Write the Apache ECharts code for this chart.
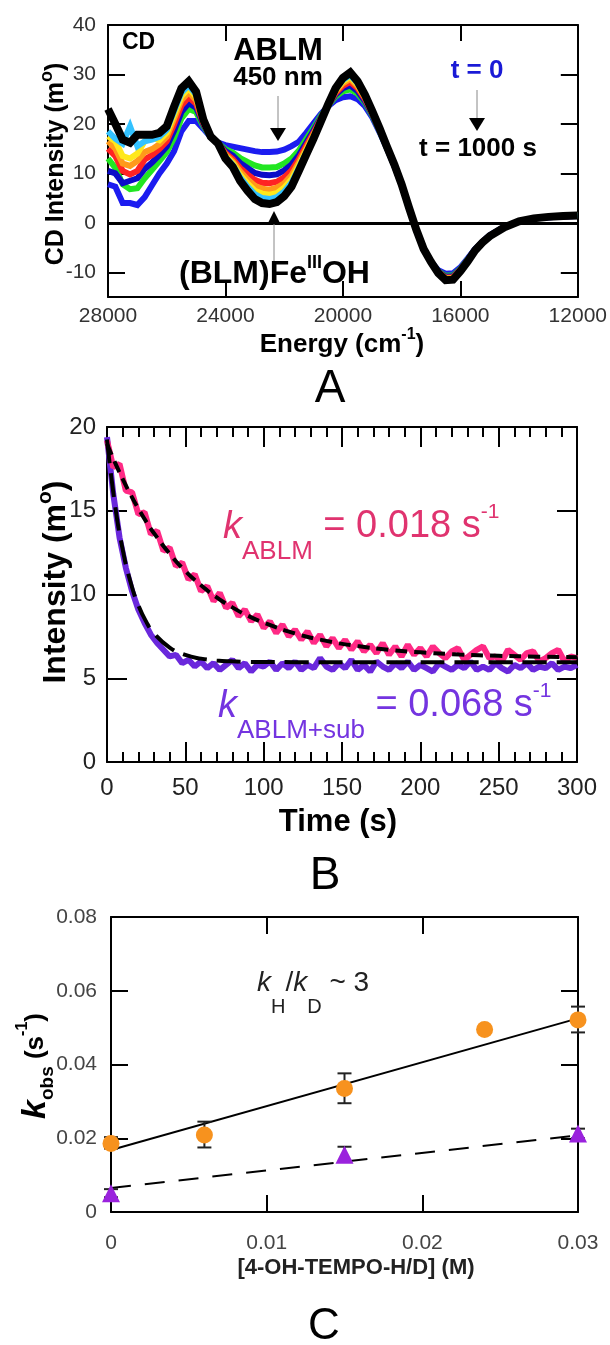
<!DOCTYPE html>
<html><head><meta charset="utf-8">
<script src="https://cdn.jsdelivr.net/npm/echarts@6/dist/echarts.min.js"></script>
<style>html,body{margin:0;padding:0;background:#fff}#c{width:610px;height:1345px}</style>
</head><body><div id="c"></div>
<script>
// ---------- Panel A: CD spectra ----------
const energy = [28000,27750,27500,27250,27000,26750,26500,26250,26000,25750,25500,25250,25000,24750,24500,24250,24000,23750,23500,23250,23000,22750,22500,22250,22000,21750,21500,21250,21000,20750,20500,20250,20000,19750,19500,19250,19000,18750,18500,18250,18000,17750,17500,17250,17000,16750,16500,16250,16000,15750,15500,15250,15000,14500,14000,13500,13000,12500,12000];
const cdBlue0 = [7.8,7.3,4.0,4.0,3.6,5.2,7.6,10.0,12.0,14.5,18.5,20.6,20.6,19.0,17.3,16.2,15.7,15.4,15.1,14.8,14.5,14.3,14.3,14.4,14.8,15.5,16.4,18.2,20.1,22.0,23.6,24.8,25.4,25.6,25.0,23.6,21.3,18.3,15.0,11.5,7.6,3.0,-1.5,-5.3,-7.9,-9.6,-10.3,-10.2,-9.0,-7.2,-5.3,-3.8,-2.5,-0.8,0.3,0.9,1.1,1.3,1.4];
const cdGreen = [13.0,11.1,7.8,6.8,7.0,9.0,10.7,12.5,14.3,17.2,21.1,23.0,22.4,19.5,17.3,16.1,14.9,14.2,13.1,12.3,11.6,11.2,11.2,11.3,12.0,13.0,14.6,16.9,19.2,21.6,23.7,25.5,26.6,27.0,26.1,24.3,21.7,18.5,15.1,11.6,7.7,3.0,-1.5,-5.3,-7.9,-9.8,-10.7,-10.6,-9.3,-7.4,-5.4,-3.9,-2.6,-0.8,0.3,0.9,1.2,1.4,1.6];
const cdBlue2 = [10.5,10.0,8.0,8.5,9.0,10.9,12.2,13.7,15.4,18.6,22.4,24.2,23.3,19.8,17.3,16.1,14.5,13.6,12.1,11.1,10.1,9.7,9.6,9.8,10.6,11.8,13.7,16.2,18.7,21.3,23.8,25.9,27.2,27.8,26.6,24.6,21.9,18.6,15.2,11.6,7.7,3.0,-1.5,-5.3,-7.9,-9.9,-10.9,-10.8,-9.4,-7.5,-5.4,-3.9,-2.6,-0.8,0.3,0.9,1.1,1.3,1.5];
const cdRed = [15.0,13.5,10.5,9.8,10.5,12.8,13.7,14.9,16.5,19.9,23.7,25.4,24.1,20.1,17.4,16.1,14.1,12.9,11.1,9.8,8.7,8.1,8.0,8.3,9.2,10.6,12.9,15.6,18.2,21.1,23.8,26.2,27.7,28.5,27.2,25.0,22.1,18.8,15.3,11.7,7.7,3.1,-1.4,-5.3,-7.9,-10.0,-11.1,-11.0,-9.5,-7.6,-5.5,-3.9,-2.6,-0.9,0.3,0.9,1.2,1.3,1.5];
const cdOrange = [16.5,15.0,12.0,11.5,12.5,14.3,14.9,15.9,17.4,21.0,24.8,26.4,24.8,20.3,17.4,16.1,13.8,12.4,10.4,8.8,7.5,6.9,6.7,7.1,8.0,9.6,12.2,15.0,17.9,20.9,23.9,26.5,28.2,29.1,27.6,25.3,22.2,18.9,15.3,11.7,7.7,3.1,-1.4,-5.3,-7.9,-10.0,-11.2,-11.1,-9.6,-7.7,-5.5,-4.0,-2.7,-0.9,0.3,0.9,1.2,1.4,1.5];
const cdYellow = [17.5,16.5,13.5,13.0,14.0,16.5,17.2,16.7,18.2,21.9,25.6,27.2,25.4,20.5,17.4,16.0,13.5,12.0,9.7,8.0,6.5,5.9,5.7,6.0,7.1,8.8,11.6,14.6,17.6,20.8,23.9,26.8,28.6,29.5,28.0,25.5,22.4,19.0,15.3,11.8,7.8,3.1,-1.4,-5.3,-7.9,-10.1,-11.4,-11.3,-9.7,-7.7,-5.6,-4.0,-2.7,-0.9,0.3,0.9,1.2,1.4,1.5];
const cdCyan = [18.5,17.0,16.0,19.5,15.5,16.5,16.8,17.4,18.8,22.6,26.3,27.8,25.9,20.6,17.4,16.0,13.3,11.7,9.2,7.3,5.8,5.0,4.8,5.2,6.3,8.1,11.1,14.2,17.3,20.6,24.0,27.0,28.9,29.9,28.2,25.7,22.5,19.0,15.4,11.8,7.8,3.1,-1.4,-5.3,-7.9,-10.1,-11.5,-11.4,-9.7,-7.8,-5.6,-4.0,-2.7,-0.9,0.3,0.9,1.2,1.4,1.5];
const cdBlack = [23.0,20.0,16.8,16.2,17.8,17.8,17.8,18.2,19.5,23.5,27.2,28.6,26.5,20.8,17.4,16.0,13.0,11.3,8.5,6.5,4.8,4.0,3.8,4.2,5.4,7.3,10.5,13.8,17.0,20.5,24.0,27.2,29.3,30.4,28.6,25.9,22.6,19.1,15.4,11.8,7.8,3.1,-1.4,-5.3,-7.9,-10.2,-11.6,-11.5,-9.8,-7.8,-5.6,-4.0,-2.7,-0.9,0.3,0.9,1.2,1.4,1.5];
const aYLabels = [-10,0,10,20,30,40];
const aYTicks = [-10,10,20,30];

// ---------- Panel B: kinetics ----------
const bTime = [0,4,8,12,16,20,24,28,32,36,40,44,48,52,56,60,64,68,72,76,80,84,88,92,96,100,104,108,112,116,120,124,128,132,136,140,144,148,152,156,160,164,168,172,176,180,184,188,192,196,200,204,208,212,216,220,224,228,232,236,240,244,248,252,256,260,264,268,272,276,280,284,288,292,296,300];
const bPink = [19.2,17.6,17.8,16.2,16.1,14.8,14.9,13.6,13.8,12.6,12.8,11.7,11.9,10.9,11.2,10.2,10.5,9.6,10.1,9.2,9.5,8.7,9.1,8.4,8.8,8.0,8.4,7.7,8.2,7.5,7.9,7.3,7.8,7.1,7.6,6.9,7.4,6.8,7.3,6.7,7.2,6.6,7.0,6.5,7.1,6.4,6.9,6.3,7.0,6.4,6.8,6.3,6.9,6.5,6.2,6.6,6.8,6.1,6.4,6.7,6.9,6.2,6.3,6.0,6.7,6.4,6.1,6.5,6.6,6.0,6.2,6.5,6.7,6.0,6.3,6.2];
const bPurple = [19.4,16.0,13.4,11.6,10.2,9.1,8.3,7.6,7.1,6.7,6.3,6.4,5.9,6.1,5.7,6.0,5.6,5.9,5.5,5.8,6.1,5.6,5.9,5.4,5.8,5.7,6.0,5.5,5.9,5.6,6.0,5.5,5.8,5.6,6.2,5.7,5.5,5.9,5.6,6.1,5.5,5.8,5.4,6.0,5.7,5.5,5.9,5.6,6.0,5.5,5.8,5.6,5.4,5.9,5.7,5.5,5.8,5.6,6.0,5.5,5.7,5.5,5.9,5.6,5.4,5.8,5.6,5.9,5.5,5.7,5.6,5.9,5.5,5.7,5.6,5.8];
const bFitTime = [0,5,10,15,20,25,30,40,50,60,70,80,90,100,120,140,160,180,200,225,250,275,300];
const bPinkFit = [19.0,17.9,16.9,15.97,15.13,14.35,13.66,12.43,11.40,10.55,9.83,9.23,8.73,8.32,7.68,7.23,6.92,6.70,6.55,6.42,6.34,6.29,6.26];
const bPurpleFit = [19.25,15.42,12.69,10.75,9.36,8.38,7.68,6.83,6.39,6.17,6.06,6.01,5.98,5.97,5.96,5.95,5.95,5.95,5.95,5.95,5.95,5.95,5.95];

// ---------- Panel C: kobs vs [4-OH-TEMPO] ----------
const cHx = [0,0.006,0.015,0.024,0.03];
const cHy = [0.0186,0.0209,0.0335,0.0495,0.0521];
const cHerrX = [0,0.006,0.015,0.03];
const cHerrLo = [0.0172,0.0175,0.0295,0.0487];
const cHerrHi = [0.0203,0.0245,0.0376,0.0557];
const cDx = [0,0.015,0.03];
const cDy = [0.0051,0.0155,0.0213];
const cDerrLo = [0.0040,0.0136,0.0200];
const cDerrHi = [0.0062,0.0177,0.0226];
const cFitX = [0,0.03];
const cHfit = [0.0168,0.0525];
const cDfit = [0.0065,0.0208];

const FF = '"Liberation Sans", Arial, Helvetica, sans-serif';
const pairs = (xs, ys) => xs.map((x, i) => [x, ys[i]]);

function frameAxis(o) {
  return Object.assign({
    type: 'value', splitLine: {show: false},
    axisLine: {show: true, onZero: false, lineStyle: {color: '#000', width: 2}},
    axisTick: {show: true, inside: true, length: 16, lineStyle: {color: '#000', width: 2}},
    axisLabel: {show: false}
  }, o);
}
const lab = (size, color, margin, extra) => Object.assign({show: true, fontSize: size, color: color, fontFamily: FF, margin: margin}, extra || {});

const chart = echarts.init(document.getElementById('c'), null, {renderer: 'canvas'});

const cdSeries = [
  ['#1c1cf0', cdBlue0, 6], ['#22e622', cdGreen, 6], ['#0b0bc8', cdBlue2, 6], ['#ff2323', cdRed, 6],
  ['#ff9a1a', cdOrange, 6], ['#ffe81a', cdYellow, 6], ['#33c2ff', cdCyan, 6], ['#000000', cdBlack, 8]
].map(([col, arr, w], i) => ({
  type: 'line', xAxisIndex: 0, yAxisIndex: 0, data: pairs(energy, arr), showSymbol: false, clip: true,
  lineStyle: {color: col, width: w, join: 'miter'}, itemStyle: {color: col}, z: 2 + i,
  markLine: i === 7 ? {silent: true, symbol: 'none', label: {show: false}, lineStyle: {color: '#000', width: 3, type: 'solid'}, data: [{yAxis: 0}]} : undefined
}));

function errRender(params, api) {
  const x = api.value(0), lo = api.value(1), hi = api.value(2);
  const p1 = api.coord([x, lo]), p2 = api.coord([x, hi]);
  const st = {stroke: '#222', lineWidth: 2};
  const w = 7;
  return {type: 'group', children: [
    {type: 'line', shape: {x1: p1[0], y1: p1[1], x2: p2[0], y2: p2[1]}, style: st},
    {type: 'line', shape: {x1: p1[0] - w, y1: p1[1], x2: p1[0] + w, y2: p1[1]}, style: st},
    {type: 'line', shape: {x1: p2[0] - w, y1: p2[1], x2: p2[0] + w, y2: p2[1]}, style: st}
  ]};
}

const T = (text, x, y, o) => ({type: 'text', x: x, y: y, rotation: (o && o.rot) || 0, z: 100,
  style: Object.assign({text: text, x: 0, y: 0, fill: '#000', fontFamily: FF, fontSize: 20,
    align: 'left', verticalAlign: 'middle', textAlign: 'left', textVerticalAlign: 'middle'}, o && o.style)});
const rt = (o) => Object.assign({fontFamily: FF, fill: '#000', color: '#000'}, o);
const kRich = (col) => ({
  k: rt({fontSize: 38, fontStyle: 'italic', lineHeight: 76, verticalAlign: 'middle', fill: col, color: col}),
  s: rt({fontSize: 26, lineHeight: 26, verticalAlign: 'bottom', fill: col, color: col}),
  m: rt({fontSize: 38, lineHeight: 76, verticalAlign: 'middle', fill: col, color: col}),
  p: rt({fontSize: 21, lineHeight: 21, verticalAlign: 'top', padding: [13, 0, 0, 0], fill: col, color: col})
});

const option = {
  animation: false,
  textStyle: {fontFamily: FF},
  grid: [
    {left: 108, top: 25, width: 470, height: 272},
    {left: 107, top: 427, width: 470, height: 335},
    {left: 111, top: 917, width: 467, height: 295}
  ],
  xAxis: [
    frameAxis({gridIndex: 0, position: 'bottom', min: 12000, max: 28000, interval: 4000, inverse: true,
      axisLabel: lab(21, '#333', 9, {formatter: v => String(v)})}),
    frameAxis({gridIndex: 0, position: 'top', min: 12000, max: 28000, interval: 4000, inverse: true}),
    frameAxis({gridIndex: 1, position: 'bottom', min: 0, max: 300, interval: 50,
      axisTick: {show: true, inside: true, length: 20, lineStyle: {color: '#000', width: 2}},
      minorTick: {show: true, splitNumber: 5, length: 10, lineStyle: {color: '#000', width: 2}},
      axisLabel: lab(24, '#222', 14)}),
    frameAxis({gridIndex: 1, position: 'top', min: 0, max: 300, interval: 50,
      axisTick: {show: true, inside: true, length: 20, lineStyle: {color: '#000', width: 2}},
      minorTick: {show: true, splitNumber: 5, length: 10, lineStyle: {color: '#000', width: 2}}}),
    frameAxis({gridIndex: 2, position: 'bottom', min: 0, max: 0.03, interval: 0.01,
      axisTick: {show: true, inside: true, length: 17, lineStyle: {color: '#000', width: 2}},
      axisLabel: lab(21, '#444', 21)}),
    frameAxis({gridIndex: 2, position: 'top', min: 0, max: 0.03, interval: 0.01,
      axisTick: {show: true, inside: true, length: 17, lineStyle: {color: '#000', width: 2}}})
  ],
  yAxis: [
    frameAxis({gridIndex: 0, position: 'left', min: -15, max: 40,
      axisTick: {show: true, inside: true, length: 17, customValues: aYTicks, lineStyle: {color: '#000', width: 2}},
      axisLabel: lab(21, '#333', 12, {customValues: aYLabels})}),
    frameAxis({gridIndex: 0, position: 'right', min: -15, max: 40,
      axisTick: {show: true, inside: true, length: 17, customValues: aYTicks, lineStyle: {color: '#000', width: 2}}}),
    frameAxis({gridIndex: 1, position: 'left', min: 0, max: 20, interval: 5,
      axisTick: {show: true, inside: true, length: 20, lineStyle: {color: '#000', width: 2}},
      axisLabel: lab(24, '#222', 11)}),
    frameAxis({gridIndex: 1, position: 'right', min: 0, max: 20, interval: 5,
      axisTick: {show: true, inside: true, length: 20, lineStyle: {color: '#000', width: 2}}}),
    frameAxis({gridIndex: 2, position: 'left', min: 0, max: 0.08, interval: 0.02,
      axisTick: {show: true, inside: true, length: 17, lineStyle: {color: '#000', width: 2}},
      axisLabel: lab(21, '#444', 14)}),
    frameAxis({gridIndex: 2, position: 'right', min: 0, max: 0.08, interval: 0.02,
      axisTick: {show: true, inside: true, length: 17, lineStyle: {color: '#000', width: 2}}})
  ],
  series: cdSeries.concat([
    {type: 'line', xAxisIndex: 2, yAxisIndex: 2, data: pairs(bTime, bPurple), showSymbol: false,
      lineStyle: {color: '#6a28dc', width: 6}, z: 2},
    {type: 'line', xAxisIndex: 2, yAxisIndex: 2, data: pairs(bTime, bPink), showSymbol: false,
      lineStyle: {color: '#ff2a85', width: 6}, z: 3},
    {type: 'line', xAxisIndex: 2, yAxisIndex: 2, data: pairs(bFitTime, bPurpleFit), showSymbol: false, smooth: true,
      lineStyle: {color: '#000', width: 4, type: [24, 10]}, z: 4},
    {type: 'line', xAxisIndex: 2, yAxisIndex: 2, data: pairs(bFitTime, bPinkFit), showSymbol: false, smooth: true,
      lineStyle: {color: '#000', width: 4, type: [12, 7]}, z: 5},
    {type: 'line', xAxisIndex: 4, yAxisIndex: 4, data: pairs(cFitX, cHfit), showSymbol: false,
      lineStyle: {color: '#000', width: 2}, z: 2},
    {type: 'line', xAxisIndex: 4, yAxisIndex: 4, data: pairs(cFitX, cDfit), showSymbol: false,
      lineStyle: {color: '#000', width: 2, type: [20, 14]}, z: 2},
    {type: 'custom', xAxisIndex: 4, yAxisIndex: 4, clip: false, renderItem: errRender, encode: {x: 0, y: [1, 2]},
      data: cHerrX.map((x, i) => [x, cHerrLo[i], cHerrHi[i]]), z: 3},
    {type: 'custom', xAxisIndex: 4, yAxisIndex: 4, clip: false, renderItem: errRender, encode: {x: 0, y: [1, 2]},
      data: cDx.map((x, i) => [x, cDerrLo[i], cDerrHi[i]]), z: 3},
    {type: 'scatter', xAxisIndex: 4, yAxisIndex: 4, clip: false, data: pairs(cHx, cHy), symbol: 'circle', symbolSize: 17,
      itemStyle: {color: '#f7921e', opacity: 1}, z: 4},
    {type: 'scatter', xAxisIndex: 4, yAxisIndex: 4, clip: false, data: pairs(cDx, cDy), symbol: 'triangle', symbolSize: 18,
      itemStyle: {color: '#9a22dd', opacity: 1}, z: 4}
  ]),
  graphic: [
    // Panel A annotations
    T('CD', 122, 43, {style: {fontSize: 23, fontWeight: 'bold'}}),
    T('ABLM', 278, 51, {style: {fontSize: 31, fontWeight: 'bold', align: 'center', textAlign: 'center'}}),
    T('450 nm', 278, 78, {style: {fontSize: 26, fontWeight: 'bold', align: 'center', textAlign: 'center'}}),
    {type: 'line', z: 100, shape: {x1: 278, y1: 96, x2: 278, y2: 128}, style: {stroke: '#888', lineWidth: 1}},
    {type: 'polygon', z: 100, shape: {points: [[270, 128], [286, 128], [278, 141]]}, style: {fill: '#000'}},
    {type: 'polygon', z: 100, shape: {points: [[268, 223], [280, 223], [274, 211]]}, style: {fill: '#000'}},
    {type: 'line', z: 100, shape: {x1: 274, y1: 224, x2: 274, y2: 261}, style: {stroke: '#888', lineWidth: 1}},
    T('{m|(BLM)Fe}{p|III}{m|OH}', 179, 274, {style: {rich: {
      m: rt({fontSize: 32, fontWeight: 'bold', lineHeight: 40, verticalAlign: 'middle'}),
      p: rt({fontSize: 18, fontWeight: 'bold', lineHeight: 22, verticalAlign: 'top'})}}}),
    T('t = 0', 477, 71, {style: {fontSize: 26, fontWeight: 'bold', fill: '#1a1ad6', align: 'center', textAlign: 'center'}}),
    {type: 'line', z: 100, shape: {x1: 477, y1: 90, x2: 477, y2: 118}, style: {stroke: '#888', lineWidth: 1}},
    {type: 'polygon', z: 100, shape: {points: [[469, 118], [485, 118], [477, 131]]}, style: {fill: '#000'}},
    T('t = 1000 s', 478, 149, {style: {fontSize: 26, fontWeight: 'bold', align: 'center', textAlign: 'center'}}),
    T('{m|Energy (cm}{p|-1}{m|)}', 342, 345, {style: {align: 'center', textAlign: 'center', rich: {
      m: rt({fontSize: 26, fontWeight: 'bold', lineHeight: 36, verticalAlign: 'middle'}),
      p: rt({fontSize: 16, fontWeight: 'bold', lineHeight: 18, verticalAlign: 'top'})}}}),
    T('{m|CD Intensity (m}{p|o}{m|)}', 56, 164, {rot: Math.PI / 2, style: {align: 'center', textAlign: 'center', rich: {
      m: rt({fontSize: 25, fontWeight: 'bold', lineHeight: 36, verticalAlign: 'middle'}),
      p: rt({fontSize: 18, fontWeight: 'bold', lineHeight: 18, verticalAlign: 'top'})}}}),
    T('A', 330, 389, {style: {fontSize: 46, align: 'center', textAlign: 'center'}}),
    // Panel B annotations
    T('{k|k}{s|ABLM}{m| = 0.018 s}{p|-1}', 223, 527, {style: {rich: kRich('#e0336f')}}),
    T('{k|k}{s|ABLM+sub}{m| = 0.068 s}{p|-1}', 218, 706, {style: {rich: kRich('#7434e0')}}),
    T('Time (s)', 338, 822, {style: {fontSize: 31, fontWeight: 'bold', align: 'center', textAlign: 'center'}}),
    T('{m|Intensity (m}{p|o}{m|)}', 56, 582, {rot: Math.PI / 2, style: {align: 'center', textAlign: 'center', rich: {
      m: rt({fontSize: 32, fontWeight: 'bold', lineHeight: 42, verticalAlign: 'middle'}),
      p: rt({fontSize: 21, fontWeight: 'bold', lineHeight: 21, verticalAlign: 'top'})}}}),
    T('B', 325, 876, {style: {fontSize: 46, align: 'center', textAlign: 'center'}}),
    // Panel C annotations
    T('{k|k}{s|H}{m|/}{k|k}{s|D}{m| ~ 3}', 257, 983, {style: {rich: {
      k: rt({fontSize: 28, fontStyle: 'italic', lineHeight: 68, verticalAlign: 'middle', fill: '#222', color: '#222'}),
      s: rt({fontSize: 20, lineHeight: 20, verticalAlign: 'bottom', fill: '#222', color: '#222'}),
      m: rt({fontSize: 28, lineHeight: 68, verticalAlign: 'middle', fill: '#222', color: '#222'})}}}),
    T('{k|k}{s|obs}{m| (s}{p|-1}{m|)}', 36, 1066, {rot: Math.PI / 2, style: {align: 'center', textAlign: 'center', rich: {
      k: rt({fontSize: 34, fontStyle: 'italic', fontWeight: 'bold', lineHeight: 42, verticalAlign: 'middle'}),
      s: rt({fontSize: 19, fontWeight: 'bold', lineHeight: 19, verticalAlign: 'bottom'}),
      m: rt({fontSize: 26, fontWeight: 'bold', lineHeight: 42, verticalAlign: 'middle'}),
      p: rt({fontSize: 16, fontWeight: 'bold', lineHeight: 16, verticalAlign: 'top'})}}}),
    T('[4-OH-TEMPO-H/D] (M)', 356, 1268, {style: {fontSize: 22, fontWeight: 'bold', fill: '#222', align: 'center', textAlign: 'center'}}),
    T('C', 324, 1327, {style: {fontSize: 44, align: 'center', textAlign: 'center'}})
  ]
};
chart.setOption(option);
</script>
</body></html>
